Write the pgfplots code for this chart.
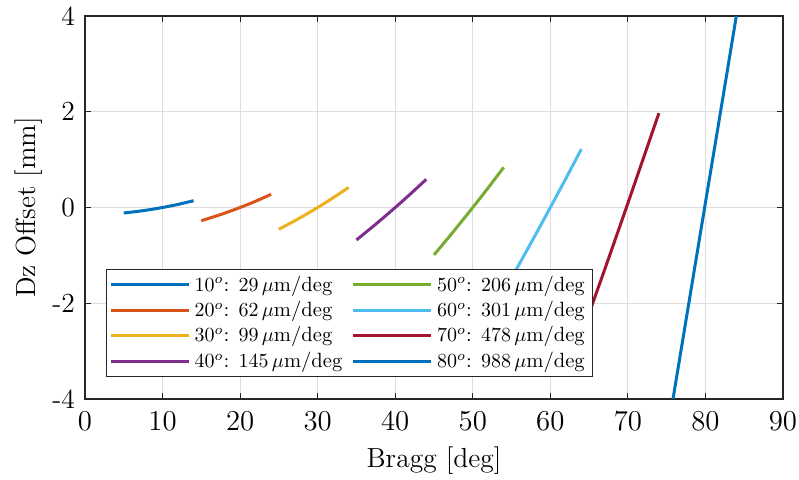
\documentclass[border=0pt]{standalone}
\usepackage{pgfplots}
\pgfplotsset{compat=1.18}
\definecolor{c1}{rgb}{0,0.447,0.741}
\definecolor{c2}{rgb}{0.850,0.325,0.098}
\definecolor{c3}{rgb}{0.929,0.694,0.125}
\definecolor{c4}{rgb}{0.494,0.184,0.556}
\definecolor{c5}{rgb}{0.466,0.674,0.188}
\definecolor{c6}{rgb}{0.301,0.745,0.933}
\definecolor{c7}{rgb}{0.635,0.078,0.184}
\definecolor{axc}{rgb}{0.15,0.15,0.15}
\begin{document}
\begin{tikzpicture}
\useasboundingbox (-42.5pt,-40.5pt) rectangle (357pt,199.5pt);
\begin{axis}[
  scale only axis,
  width=349pt, height=191.5pt,
  xmin=0, xmax=90, ymin=-4, ymax=4,
  xtick={0,10,...,90},
  ytick={-4,-2,0,2,4},
  yticklabels={-4,-2,0,2,4},
  tick align=inside,
  major tick length=3pt,
  xtick pos=both, ytick pos=both,
  axis line style={axc, line width=0.6pt},
  tick style={axc, line width=0.6pt},
  grid=major,
  major grid style={black!13, line width=0.5pt},
  tick label style={font=\fontsize{13.8}{15}\selectfont, text=black},
  xticklabel style={yshift=-3pt},
  yticklabel style={xshift=-1.5pt},
  xlabel={Bragg [deg]},
  ylabel={Dz Offset [mm]},
  label style={font=\fontsize{13.8}{16}\selectfont},
  xlabel style={at={(axis description cs:0.5,0)}, anchor=base, yshift=-34.5pt},
  ylabel style={at={(axis description cs:-0.0716,0.5)}, anchor=base},
  clip=true,
  every axis plot/.append style={line width=1.5pt},
  legend columns=2,
  legend cell align=left,
  legend style={at={(rel axis cs:0.0297,0.0574)}, anchor=south west,
    draw=axc, line width=0.6pt, fill=white,
    font=\fontsize{10.3}{11.5}\selectfont,
    inner sep=1.5pt, row sep=0.5pt,
    nodes={inner xsep=2.2pt, inner ysep=1.5pt},
    /tikz/every even column/.append style={column sep=2.5pt}},
  legend image code/.code={\draw[#1, line width=1.5pt] (0pt,0pt) -- (39pt,0pt);},
]
\addplot[c1, smooth] coordinates {(5,-0.115) (7.5,-0.066) (10,0) (12,0.065) (14,0.142)};
\addlegendentry{$10^o$:\hspace{0.45em}$29\,\mu$m/deg}
\addplot[c5, smooth] coordinates {(45,-0.99) (47.5,-0.503) (50,0) (52,0.415) (54,0.84)};
\addlegendentry{$50^o$:\hspace{0.45em}$206\,\mu$m/deg}
\addplot[c2, smooth] coordinates {(15,-0.275) (17.5,-0.147) (20,0) (22,0.131) (24,0.275)};
\addlegendentry{$20^o$:\hspace{0.45em}$62\,\mu$m/deg}
\addplot[c6, smooth] coordinates {(55,-1.47) (57.5,-0.742) (60,0) (62,0.605) (64,1.22)};
\addlegendentry{$60^o$:\hspace{0.45em}$301\,\mu$m/deg}
\addplot[c3, smooth] coordinates {(25,-0.455) (27.5,-0.237) (30,0) (32,0.204) (34,0.42)};
\addlegendentry{$30^o$:\hspace{0.45em}$99\,\mu$m/deg}
\addplot[c7, smooth] coordinates {(65,-2.21) (67.5,-1.07) (70,0.09) (72,1.03) (74,1.97)};
\addlegendentry{$70^o$:\hspace{0.45em}$478\,\mu$m/deg}
\addplot[c4, smooth] coordinates {(35,-0.678) (37.5,-0.347) (40,0) (42,0.289) (44,0.588)};
\addlegendentry{$40^o$:\hspace{0.45em}$145\,\mu$m/deg}
\addplot[c1, smooth] coordinates {(75,-4.8) (77.5,-2.35) (80,0.1) (82,2.05) (85,5.0)};
\addlegendentry{$80^o$:\hspace{0.45em}$988\,\mu$m/deg}
\end{axis}
\end{tikzpicture}
\end{document}
